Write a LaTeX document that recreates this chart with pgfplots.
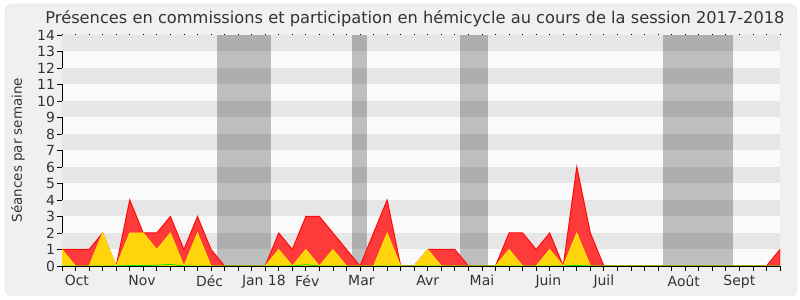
\documentclass[border=0pt]{standalone}
\usepackage{pgfplots}
\pgfplotsset{compat=1.18}
\usepackage{fontspec}
\setmainfont{DejaVu Sans}
\definecolor{bgc}{RGB}{240,240,240}
\definecolor{bord}{RGB}{222,222,222}
\definecolor{txt}{RGB}{51,51,51}
\definecolor{stripe}{RGB}{230,230,230}
\definecolor{plotbg}{RGB}{250,250,250}
\definecolor{redfill}{RGB}{255,58,58}
\definecolor{redline}{RGB}{255,10,10}
\definecolor{yelfill}{RGB}{255,212,10}
\definecolor{yelline}{RGB}{255,235,0}
\definecolor{grn}{RGB}{0,230,0}
\begin{document}
\begin{tikzpicture}
\fill[white] (0bp,0bp) rectangle (800bp,300bp);
\draw[draw=bord, fill=bgc, rounded corners=8bp] (5bp,4bp) rectangle (797bp,296bp);
\node[font=\fontsize{16.3}{18}\selectfont, text=txt] at (415bp,281bp) {Présences en commissions et participation en hémicycle au cours de la session 2017-2018};
\node[rotate=90, font=\fontsize{13.5}{15}\selectfont, text=txt] at (18bp,150bp) {Séances par semaine};
\begin{axis}[
  at={(62bp,34bp)}, anchor=south west,
  scale only axis, width=718bp, height=231bp,
  xmin=0, xmax=53, ymin=0, ymax=14,
  axis lines*=left,
  axis line style={black, line width=0.8bp},
  axis background/.style={fill=plotbg},
  xtick={1.1,5.9,10.9,14.9,18.1,22.1,27,31,35.9,40,45.9,50},
  xticklabels={Oct,Nov,Déc,Jan 18,Fév,Mar,Avr,Mai,Juin,Juil,Août,Sept},
  every major x tick/.style={draw=none},
  minor xtick={0,...,53},
  ytick={0,...,14},
  tick align=outside,
  major tick length=4.5bp,
  minor tick length=4.5bp,
  tick style={black, line width=0.8bp},
  every tick label/.append style={font=\fontsize{14}{16}\selectfont, text=txt},
  /pgf/number format/assume math mode=true,
  yticklabel style={xshift=1bp},
  xticklabel style={yshift=-1bp},
  clip=true,
]
\fill[stripe] (axis cs:0,1) rectangle (axis cs:53,2);
\fill[stripe] (axis cs:0,3) rectangle (axis cs:53,4);
\fill[stripe] (axis cs:0,5) rectangle (axis cs:53,6);
\fill[stripe] (axis cs:0,7) rectangle (axis cs:53,8);
\fill[stripe] (axis cs:0,9) rectangle (axis cs:53,10);
\fill[stripe] (axis cs:0,11) rectangle (axis cs:53,12);
\fill[stripe] (axis cs:0,13) rectangle (axis cs:53,14);
\fill[black, opacity=0.24] (axis cs:11.45,0) rectangle (axis cs:15.45,14);
\fill[black, opacity=0.24] (axis cs:21.4,0) rectangle (axis cs:22.5,14);
\fill[black, opacity=0.24] (axis cs:29.4,0) rectangle (axis cs:31.45,14);
\fill[black, opacity=0.24] (axis cs:44.4,0) rectangle (axis cs:49.5,14);
\addplot[draw=redline, fill=redfill, line width=1bp] table {
x y
0 1
1 1
2 1
3 2
4 0
5 4
6 2
7 2
8 3
9 1
10 3
11 1
12 0
13 0
14 0
15 0
16 2
17 1
18 3
19 3
20 2
21 1
22 0
23 2
24 4
25 0
26 0
27 1
28 1
29 1
30 0
31 0
32 0
33 2
34 2
35 1
36 2
37 0
38 6
39 2
40 0
41 0
42 0
43 0
44 0
45 0
46 0
47 0
48 0
49 0
50 0
51 0
52 0
53 1
} \closedcycle;
\addplot[draw=yelline, fill=yelfill, line width=0.8bp] table {
x y
0 1
1 0
2 0
3 2
4 0
5 2
6 2
7 1
8 2
9 0
10 2
11 0
12 0
13 0
14 0
15 0
16 1
17 0
18 1
19 0
20 1
21 0
22 0
23 0
24 2
25 0
26 0
27 1
28 0
29 0
30 0
31 0
32 0
33 1
34 0
35 0
36 1
37 0
38 2
39 0
40 0
41 0
42 0
43 0
44 0
45 0
46 0
47 0
48 0
49 0
50 0
51 0
52 0
53 0
} \closedcycle;
\addplot[draw=grn, line width=0.8bp] table {
x y
0 0
4 0
5 0.03
6 0.03
7 0.05
8 0.1
9 0
17 0
18 0.08
19 0
37 0
38 0.04
39 0
53 0
};
\end{axis}
\begin{axis}[
  at={(62bp,34bp)}, anchor=south west,
  scale only axis, width=718bp, height=231bp,
  xmin=0, xmax=53, ymin=0, ymax=14,
  axis x line*=top, axis y line=none,
  axis line style={draw=none},
  xtick={0,...,53}, xticklabels={},
  tick align=outside, major tick length=1.2bp,
  tick style={black, line width=0.8bp},
]
\end{axis}
\end{tikzpicture}
\end{document}
